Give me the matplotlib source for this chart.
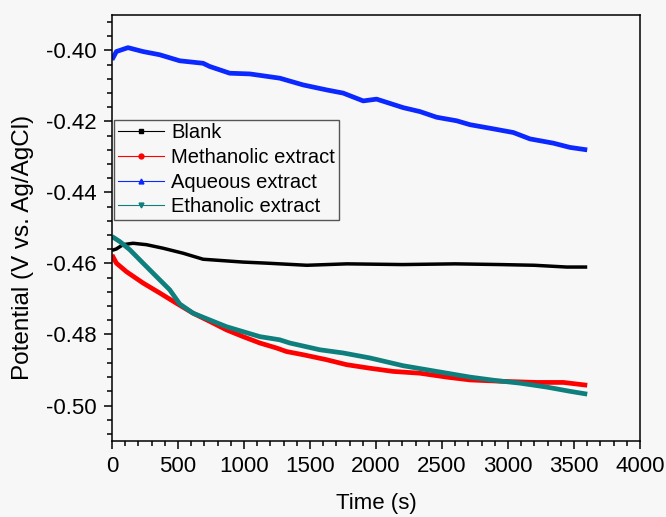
import numpy as np
import matplotlib
matplotlib.use("Agg")
import matplotlib.pyplot as plt
from matplotlib.ticker import MultipleLocator, FormatStrFormatter

plt.rcParams['font.family'] = ['Liberation Sans', 'DejaVu Sans']

t_blank = [0, 33, 83, 159, 261, 387, 538, 690, 841, 993, 1170, 1476, 1780, 2200, 2600, 2940, 3200, 3445, 3600]
v_blank = [-0.4563, -0.4559, -0.4547, -0.4543, -0.4547, -0.4557, -0.4571, -0.4588, -0.4592, -0.4596,
           -0.4599, -0.4605, -0.4601, -0.4603, -0.4601, -0.4603, -0.4605, -0.4610, -0.4610]

t_meth = [0, 33, 109, 235, 361, 488, 614, 740, 867, 993, 1120, 1246, 1322, 1448, 1625, 1777, 1953,
          2130, 2332, 2535, 2712, 2964, 3217, 3419, 3600]
v_meth = [-0.4576, -0.4599, -0.4623, -0.4655, -0.4683, -0.4712, -0.4740, -0.4763, -0.4787, -0.4806,
          -0.4824, -0.4838, -0.4848, -0.4857, -0.4871, -0.4885, -0.4895, -0.4904, -0.4909, -0.4920,
          -0.4928, -0.4932, -0.4935, -0.4935, -0.4943]

t_aq = [0, 33, 121, 235, 361, 513, 690, 740, 892, 1044, 1271, 1448, 1625, 1751, 1903, 2004, 2080,
        2206, 2332, 2459, 2611, 2712, 2863, 3040, 3166, 3343, 3469, 3600]
v_aq = [-0.4026, -0.4003, -0.3992, -0.4003, -0.4012, -0.4029, -0.4036, -0.4045, -0.4064, -0.4066,
        -0.4078, -0.4097, -0.4111, -0.4120, -0.4142, -0.4137, -0.4146, -0.4161, -0.4172, -0.4188,
        -0.4198, -0.4209, -0.4219, -0.4231, -0.4249, -0.4261, -0.4273, -0.4280]

t_eth = [0, 58, 134, 235, 337, 437, 513, 614, 740, 867, 993, 1120, 1271, 1347, 1574, 1751, 1953,
         2206, 2459, 2712, 2914, 3090, 3292, 3469, 3600]
v_eth = [-0.4524, -0.4538, -0.4561, -0.4599, -0.4637, -0.4674, -0.4714, -0.4740, -0.4759, -0.4778,
         -0.4792, -0.4806, -0.4815, -0.4824, -0.4843, -0.4852, -0.4866, -0.4888, -0.4904, -0.4920,
         -0.4930, -0.4937, -0.4948, -0.4960, -0.4968]

bg = '#f7f7f7'
fig = plt.figure(figsize=(6.66, 5.17), dpi=100, facecolor=bg)
ax = fig.add_axes([0.1682, 0.147, 0.7928, 0.824], facecolor=bg)

series = [
    (t_blank, v_blank, 'black', 's', 'Blank'),
    (t_meth, v_meth, '#ff0000', 'o', 'Methanolic extract'),
    (t_aq, v_aq, '#0a28ff', '^', 'Aqueous extract'),
    (t_eth, v_eth, '#0e7f7c', 'v', 'Ethanolic extract'),
]
# thick curves
for t, v, c, m, lab in series:
    ax.plot(t, v, color=c, lw=3.4 if c != 'black' else 2.5, solid_capstyle='butt')

# legend proxies: thin line with small marker
handles = []
for t, v, c, m, lab in series:
    h, = ax.plot([], [], color=c, lw=0.8, marker=m, markersize=3.5, label=lab)
    handles.append(h)

leg = ax.legend(handles=handles, loc='upper left', bbox_to_anchor=(0.004, 0.754),
                fontsize=14.5, frameon=True, fancybox=False, handlelength=2.3,
                borderaxespad=0, labelspacing=0.28, handletextpad=0.35, borderpad=0.18)
leg.get_frame().set_edgecolor('#555555')
leg.get_frame().set_linewidth(1.0)
leg.get_frame().set_facecolor(bg)
leg.get_frame().set_alpha(1)

ax.set_xlim(0, 4000)
ax.set_ylim(-0.51, -0.39)
ax.xaxis.set_major_locator(MultipleLocator(500))
ax.xaxis.set_minor_locator(MultipleLocator(100))
ax.yaxis.set_major_locator(MultipleLocator(0.02))
ax.yaxis.set_minor_locator(MultipleLocator(0.004))
ax.yaxis.set_major_formatter(FormatStrFormatter('%.2f'))

ax.tick_params(which='both', direction='out', top=False, right=False, labelsize=16, width=1.1)
ax.tick_params(which='major', length=6, pad=5)
ax.tick_params(which='minor', length=3.5)
for s in ax.spines.values():
    s.set_linewidth(1.1)

ax.set_xlabel('Time (s)', fontsize=16, labelpad=11)
ax.set_ylabel('Potential (V vs. Ag/AgCl)', fontsize=17.5)
ax.yaxis.set_label_coords(-0.148, 0.455)

fig.savefig('out.png', dpi=100, facecolor=bg)
